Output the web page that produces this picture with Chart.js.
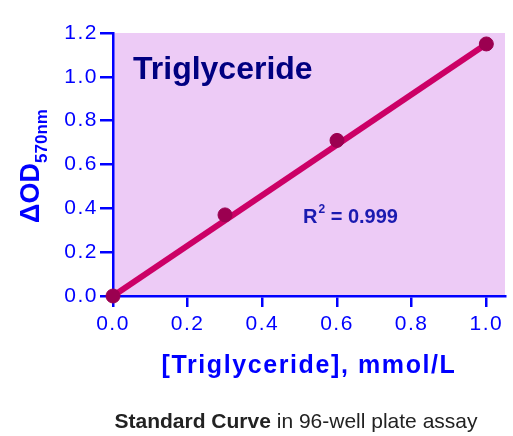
<!DOCTYPE html>
<html>
<head>
<meta charset="utf-8">
<script src="https://cdn.jsdelivr.net/npm/chart.js@4.4.1/dist/chart.umd.min.js"></script>
<style>
  html, body { margin: 0; padding: 0; background: #fff; }
  #wrap { width: 513px; height: 436px; }
</style>
</head>
<body>
<div id="wrap"><canvas id="myChart" width="513" height="436"></canvas></div>
<script>
// standard curve readings
const concentrations = [0.0, 0.3, 0.6, 1.0];
const odValues = [0.0, 0.37, 0.71, 1.15];
// linear fit drawn through the points
const fitX = [0.0, 1.0];
const fitY = [0.0, 1.15];
const xTicks = [0.0, 0.2, 0.4, 0.6, 0.8, 1.0];
const yTicks = [0.0, 0.2, 0.4, 0.6, 0.8, 1.0, 1.2];

const FONT = "'Liberation Sans', Arial, sans-serif";
const BLUE = "#0000ff";

const pointData = concentrations.map((c, i) => ({ x: c, y: odValues[i] }));
const fitData = fitX.map((c, i) => ({ x: c, y: fitY[i] }));

const decorations = {
  id: "decorations",
  beforeDraw(chart) {
    const { ctx, chartArea } = chart;
    ctx.save();
    ctx.fillStyle = "#edcbf6";
    ctx.fillRect(chartArea.left, chartArea.top, chartArea.right - chartArea.left, chartArea.bottom - chartArea.top);
    ctx.restore();
    // wider tick labels like the original
    ctx.letterSpacing = "1.5px";
  },
  afterDraw(chart) {
    const { ctx, chartArea } = chart;
    ctx.save();
    ctx.letterSpacing = "0px";
    ctx.textBaseline = "alphabetic";

    // title inside the plot
    ctx.fillStyle = "#000080";
    ctx.font = "bold 32px " + FONT;
    ctx.textAlign = "left";
    ctx.fillText("Triglyceride", 133, 79);

    // R squared
    ctx.fillStyle = "#1a1ab0";
    ctx.font = "bold 20px " + FONT;
    let x = 303;
    ctx.fillText("R", x, 223);
    x += ctx.measureText("R").width;
    ctx.font = "bold 12px " + FONT;
    ctx.fillText("2", x + 1, 213);
    x += ctx.measureText("2").width + 1;
    ctx.font = "bold 20px " + FONT;
    ctx.fillText(" = 0.999", x, 223);

    // x axis title
    ctx.fillStyle = BLUE;
    ctx.font = "bold 25px " + FONT;
    ctx.letterSpacing = "1.6px";
    ctx.textAlign = "center";
    ctx.fillText("[Triglyceride], mmol/L", (chartArea.left + chartArea.right) / 2, 373);
    ctx.letterSpacing = "0px";

    // y axis title, rotated
    ctx.save();
    ctx.translate(39, 166);
    ctx.rotate(-Math.PI / 2);
    ctx.textAlign = "left";
    ctx.font = "bold 27px " + FONT;
    const mainW = ctx.measureText("\u0394OD").width;
    ctx.font = "bold 17px " + FONT;
    const subW = ctx.measureText("570nm").width;
    const start = -(mainW + subW) / 2;
    ctx.font = "bold 27px " + FONT;
    ctx.fillText("\u0394OD", start, 0);
    ctx.font = "bold 17px " + FONT;
    ctx.fillText("570nm", start + mainW, 8);
    ctx.restore();

    // caption
    ctx.fillStyle = "#222";
    ctx.textAlign = "left";
    ctx.font = "bold 21px " + FONT;
    const boldPart = "Standard Curve";
    const bw = ctx.measureText(boldPart).width;
    ctx.font = "21px " + FONT;
    const rest = " in 96-well plate assay";
    const rw = ctx.measureText(rest).width;
    const cx = 296 - (bw + rw) / 2;
    ctx.font = "bold 21px " + FONT;
    ctx.fillText(boldPart, cx, 428);
    ctx.font = "21px " + FONT;
    ctx.fillText(rest, cx + bw, 428);

    ctx.restore();
  }
};

new Chart(document.getElementById("myChart"), {
  type: "scatter",
  data: {
    datasets: [
      {
        label: "Fit",
        data: fitData,
        showLine: true,
        borderColor: "#cc0066",
        borderWidth: 6,
        pointRadius: 0,
        clip: false,
        order: 2,
      },
      {
        label: "Standards",
        data: pointData,
        backgroundColor: "#9b0050",
        borderColor: "#9b0050",
        pointRadius: 7,
        pointHoverRadius: 7,
        clip: false,
        order: 1,
      },
    ],
  },
  plugins: [decorations],
  options: {
    responsive: false,
    animation: false,
    events: [],
    layout: { padding: { left: 0, top: 33, right: 6, bottom: 0 } },
    plugins: { legend: { display: false }, tooltip: { enabled: false } },
    scales: {
      x: {
        type: "linear",
        min: 0,
        max: 1.05,
        afterBuildTicks: (s) => { s.ticks = xTicks.map((v) => ({ value: v })); },
        afterFit: (s) => { s.height = 140; },
        ticks: {
          color: BLUE,
          font: { family: FONT, size: 21 },
          padding: 5,
          maxRotation: 0,
          callback: (v) => v.toFixed(1),
        },
        grid: { drawOnChartArea: false, drawTicks: true, tickLength: 11, color: BLUE, lineWidth: 2.5 },
        border: { color: BLUE, width: 2.5 },
      },
      y: {
        type: "linear",
        min: 0,
        max: 1.2,
        afterBuildTicks: (s) => { s.ticks = yTicks.map((v) => ({ value: v })); },
        afterFit: (s) => { s.width = 113; },
        ticks: {
          color: BLUE,
          font: { family: FONT, size: 21 },
          padding: 2,
          callback: (v) => v.toFixed(1),
        },
        grid: { drawOnChartArea: false, drawTicks: true, tickLength: 13, color: BLUE, lineWidth: 2.5 },
        border: { color: BLUE, width: 2.5 },
      },
    },
  },
});
</script>
</body>
</html>
